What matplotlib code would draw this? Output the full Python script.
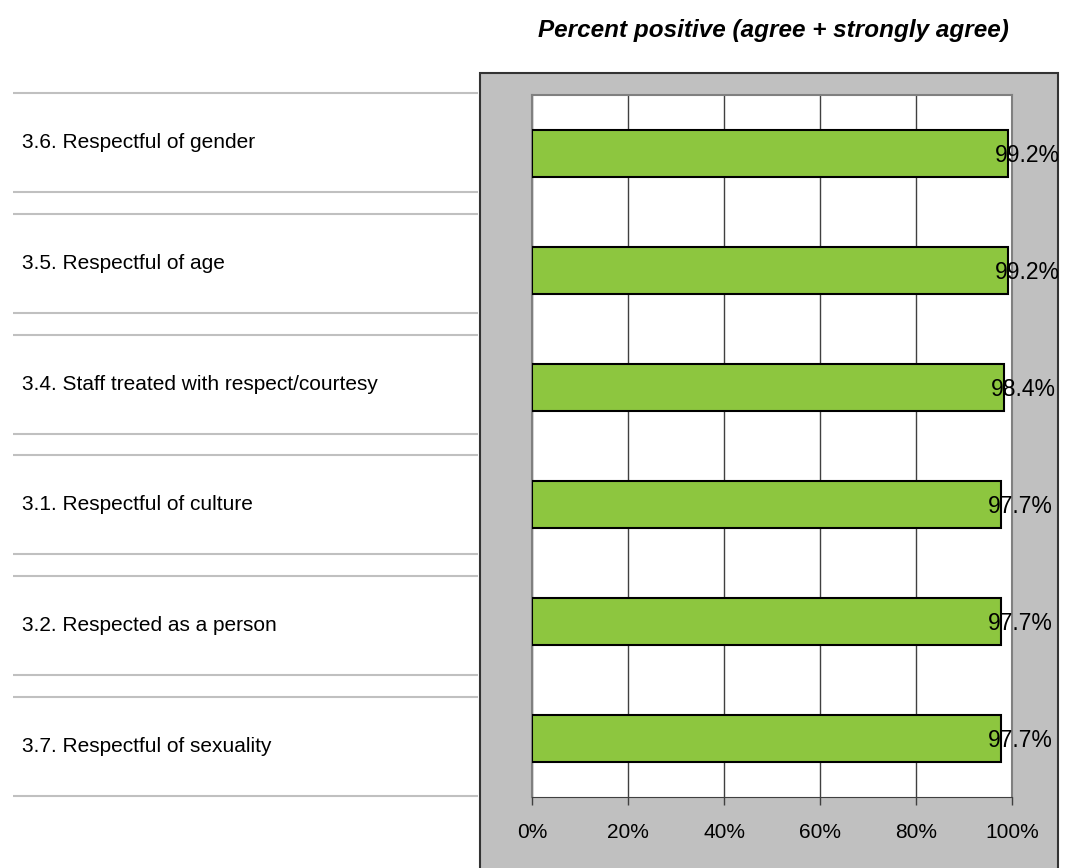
import matplotlib.pyplot as plt
import matplotlib.patches as mpatches
import numpy as np

items = ['3.6. Respectful of gender',
         '3.5. Respectful of age',
         '3.4. Staff treated with respect/courtesy',
         '3.1. Respectful of culture',
         '3.2. Respected as a person',
         '3.7. Respectful of sexuality']
pct = [99.2, 99.2, 98.4, 97.7, 97.7, 97.7]
xticks = [0, 20, 40, 60, 80, 100]

plt.rcParams['font.family'] = ['Liberation Sans', 'DejaVu Sans']
narrow = ['Liberation Sans Narrow', 'Liberation Sans', 'DejaVu Sans']

W, H = 1071, 868
fig = plt.figure(figsize=(W / 100, H / 100), dpi=100)

# grey frame behind the chart
frame = mpatches.Rectangle((480 / W, -0.01), 578 / W, (H - 73) / H + 0.01,
                           transform=fig.transFigure, facecolor='#c0c0c0',
                           edgecolor='#333333', linewidth=1.5, zorder=-1)
fig.patches.append(frame)

fig.text(773 / W, 1 - 30 / H, 'Percent positive (agree + strongly agree)',
         ha='center', va='center', fontsize=17.5, fontweight='bold',
         fontstyle='italic')

# label table on the left
lab = fig.add_axes([13 / W, 1 - 807 / H, 465 / W, 725 / H])
lab.set_xlim(0, 1)
lab.set_ylim(5.5, -0.5)
lab.axis('off')
for i, name in enumerate(items):
    for d in (-0.409, 0.409):
        lab.axhline(i + d, color='#c0c0c0', linewidth=1.5)
    lab.text(0.02, i, name, ha='left', va='center', fontsize=15)

# bars
ax = fig.add_axes([532 / W, 1 - 797 / H, 480 / W, 702 / H])
ax.set_facecolor('white')
y = np.arange(len(items))
ax.barh(y, pct, height=0.4, color='#8dc63f', edgecolor='black',
        linewidth=1.5, zorder=3)
ax.set_xlim(0, 100)
ax.set_ylim(len(items) - 0.5, -0.5)
ax.set_xticks(xticks)
ax.set_xticklabels(['%d%%' % t for t in xticks], fontsize=15,
                   family=narrow)
ax.set_yticks([])
ax.xaxis.grid(True, color='#404040', linewidth=1)
ax.set_axisbelow(True)
ax.tick_params(axis='x', length=6, width=1, color='#404040', pad=13)
for s in ('top', 'left', 'right'):
    ax.spines[s].set_color('#808080')
    ax.spines[s].set_linewidth(1.5)
ax.spines['bottom'].set_color('#404040')

for yi, v in zip(y, pct):
    ax.annotate('%.1f%%' % v, (v, yi), xytext=(-13, -2),
                textcoords='offset pixels', ha='left', va='center',
                fontsize=16.5, family=narrow, zorder=4)

fig.savefig('out.png', dpi=100)
